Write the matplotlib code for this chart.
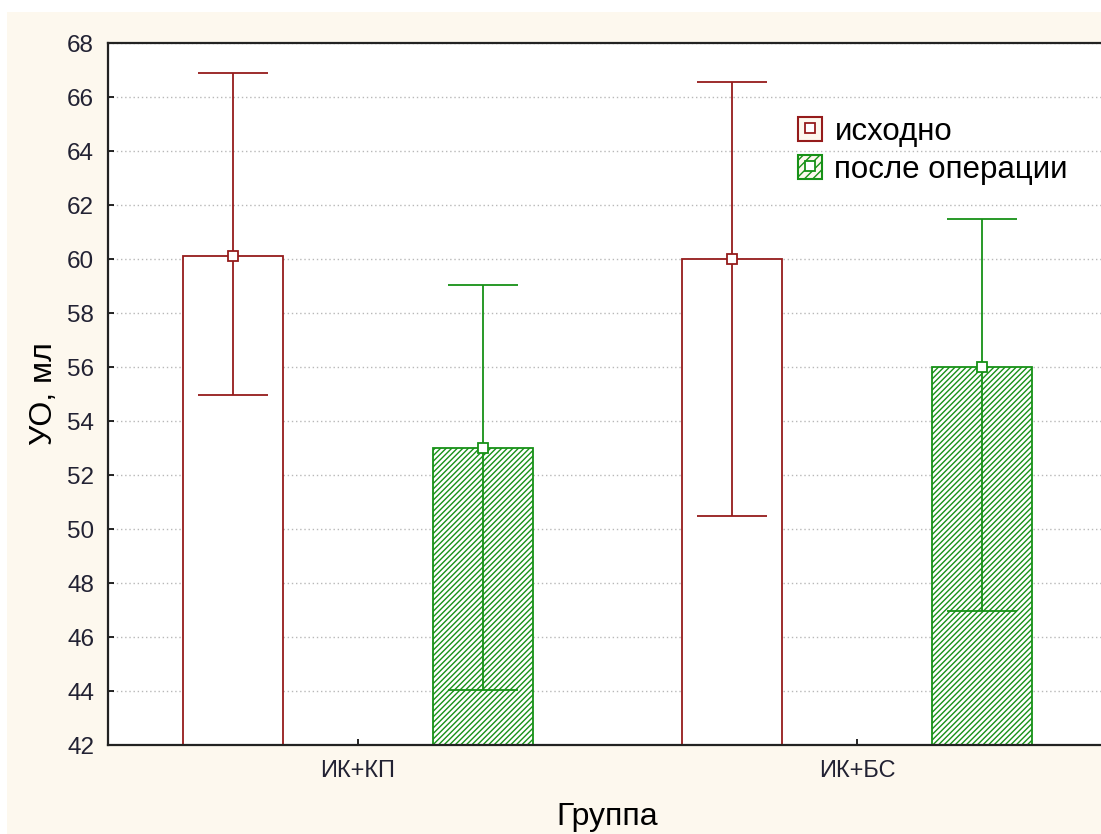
import numpy as np
import matplotlib
matplotlib.use('Agg')
import matplotlib.pyplot as plt
from matplotlib.patches import Rectangle, Patch
from matplotlib.lines import Line2D

plt.rcParams['font.family'] = ['Liberation Sans', 'DejaVu Sans']
plt.rcParams['hatch.linewidth'] = 1.0

groups = ['ИК+КП', 'ИК+БС']
series = ['исходно', 'после операции']
means = [[60.1, 60.0], [53.0, 56.0]]
upper = [[66.9, 66.55], [59.05, 61.5]]
lower = [[54.95, 50.5], [44.05, 46.95]]

red = '#951b1b'
green = '#179117'

fig = plt.figure(figsize=(11.01, 8.34), dpi=100, facecolor='white')
fig.patches.append(Rectangle((7/1101, 0), 1, 1 - 12/834, transform=fig.transFigure,
                             facecolor='#fdf8ee', edgecolor='none', zorder=-10))
ax = fig.add_axes([108/1101, 1 - 745/834, (1107 - 108)/1101, (745 - 43)/834])

x = np.arange(len(groups))
offs = [-0.25, 0.25]
w = 0.2
handles = []
for i, s in enumerate(series):
    c = red if i == 0 else green
    m = np.array(means[i])
    yerr = [m - np.array(lower[i]), np.array(upper[i]) - m]
    ax.bar(x + offs[i], m - 42, bottom=42, width=w, facecolor='white', edgecolor=c,
           linewidth=1.3, hatch=None if i == 0 else '//////', zorder=2)
    ax.errorbar(x + offs[i], m, yerr=yerr, fmt='s', color=c, mfc='white', mec=c, ms=7,
                mew=1.3, elinewidth=1.3, capsize=25, capthick=1.3, zorder=3)
    handles.append((Patch(facecolor='#fdf8ee', edgecolor=c, hatch=None if i == 0 else '////', linewidth=1.5),
                    Line2D([], [], ls='none', marker='s', ms=7, mfc='white', mec=c, mew=1.3)))

ax.set_xlim(-0.5, 1.5)
ax.set_ylim(42, 68)
ax.set_yticks(np.arange(42, 69, 2))
ax.set_xticks(x)
ax.set_xticklabels(groups)
ax.tick_params(axis='both', direction='in', length=4, width=1.2, colors='black')
ax.tick_params(axis='y', labelsize=17.5, pad=10)
ax.tick_params(axis='x', labelsize=17, pad=11)
for lab in ax.get_yticklabels() + ax.get_xticklabels():
    lab.set_color('#222233')
ax.yaxis.grid(True, color='#b8b8b8', linestyle=(0, (1, 2)), linewidth=1.0, zorder=0)
ax.set_axisbelow(True)
for sp in ax.spines.values():
    sp.set_linewidth(1.6)
    sp.set_color('#222222')

ax.set_ylabel('УО, мл', fontsize=23, labelpad=6)
ax.set_xlabel('Группа', fontsize=23, labelpad=14)

ax.legend(handles, series, loc='upper left', bbox_to_anchor=(0.663, 0.935), frameon=False,
          fontsize=22.5, handlelength=0.75, handleheight=0.8, handletextpad=0.4, labelspacing=0.25)

fig.savefig('out.png', dpi=100)
